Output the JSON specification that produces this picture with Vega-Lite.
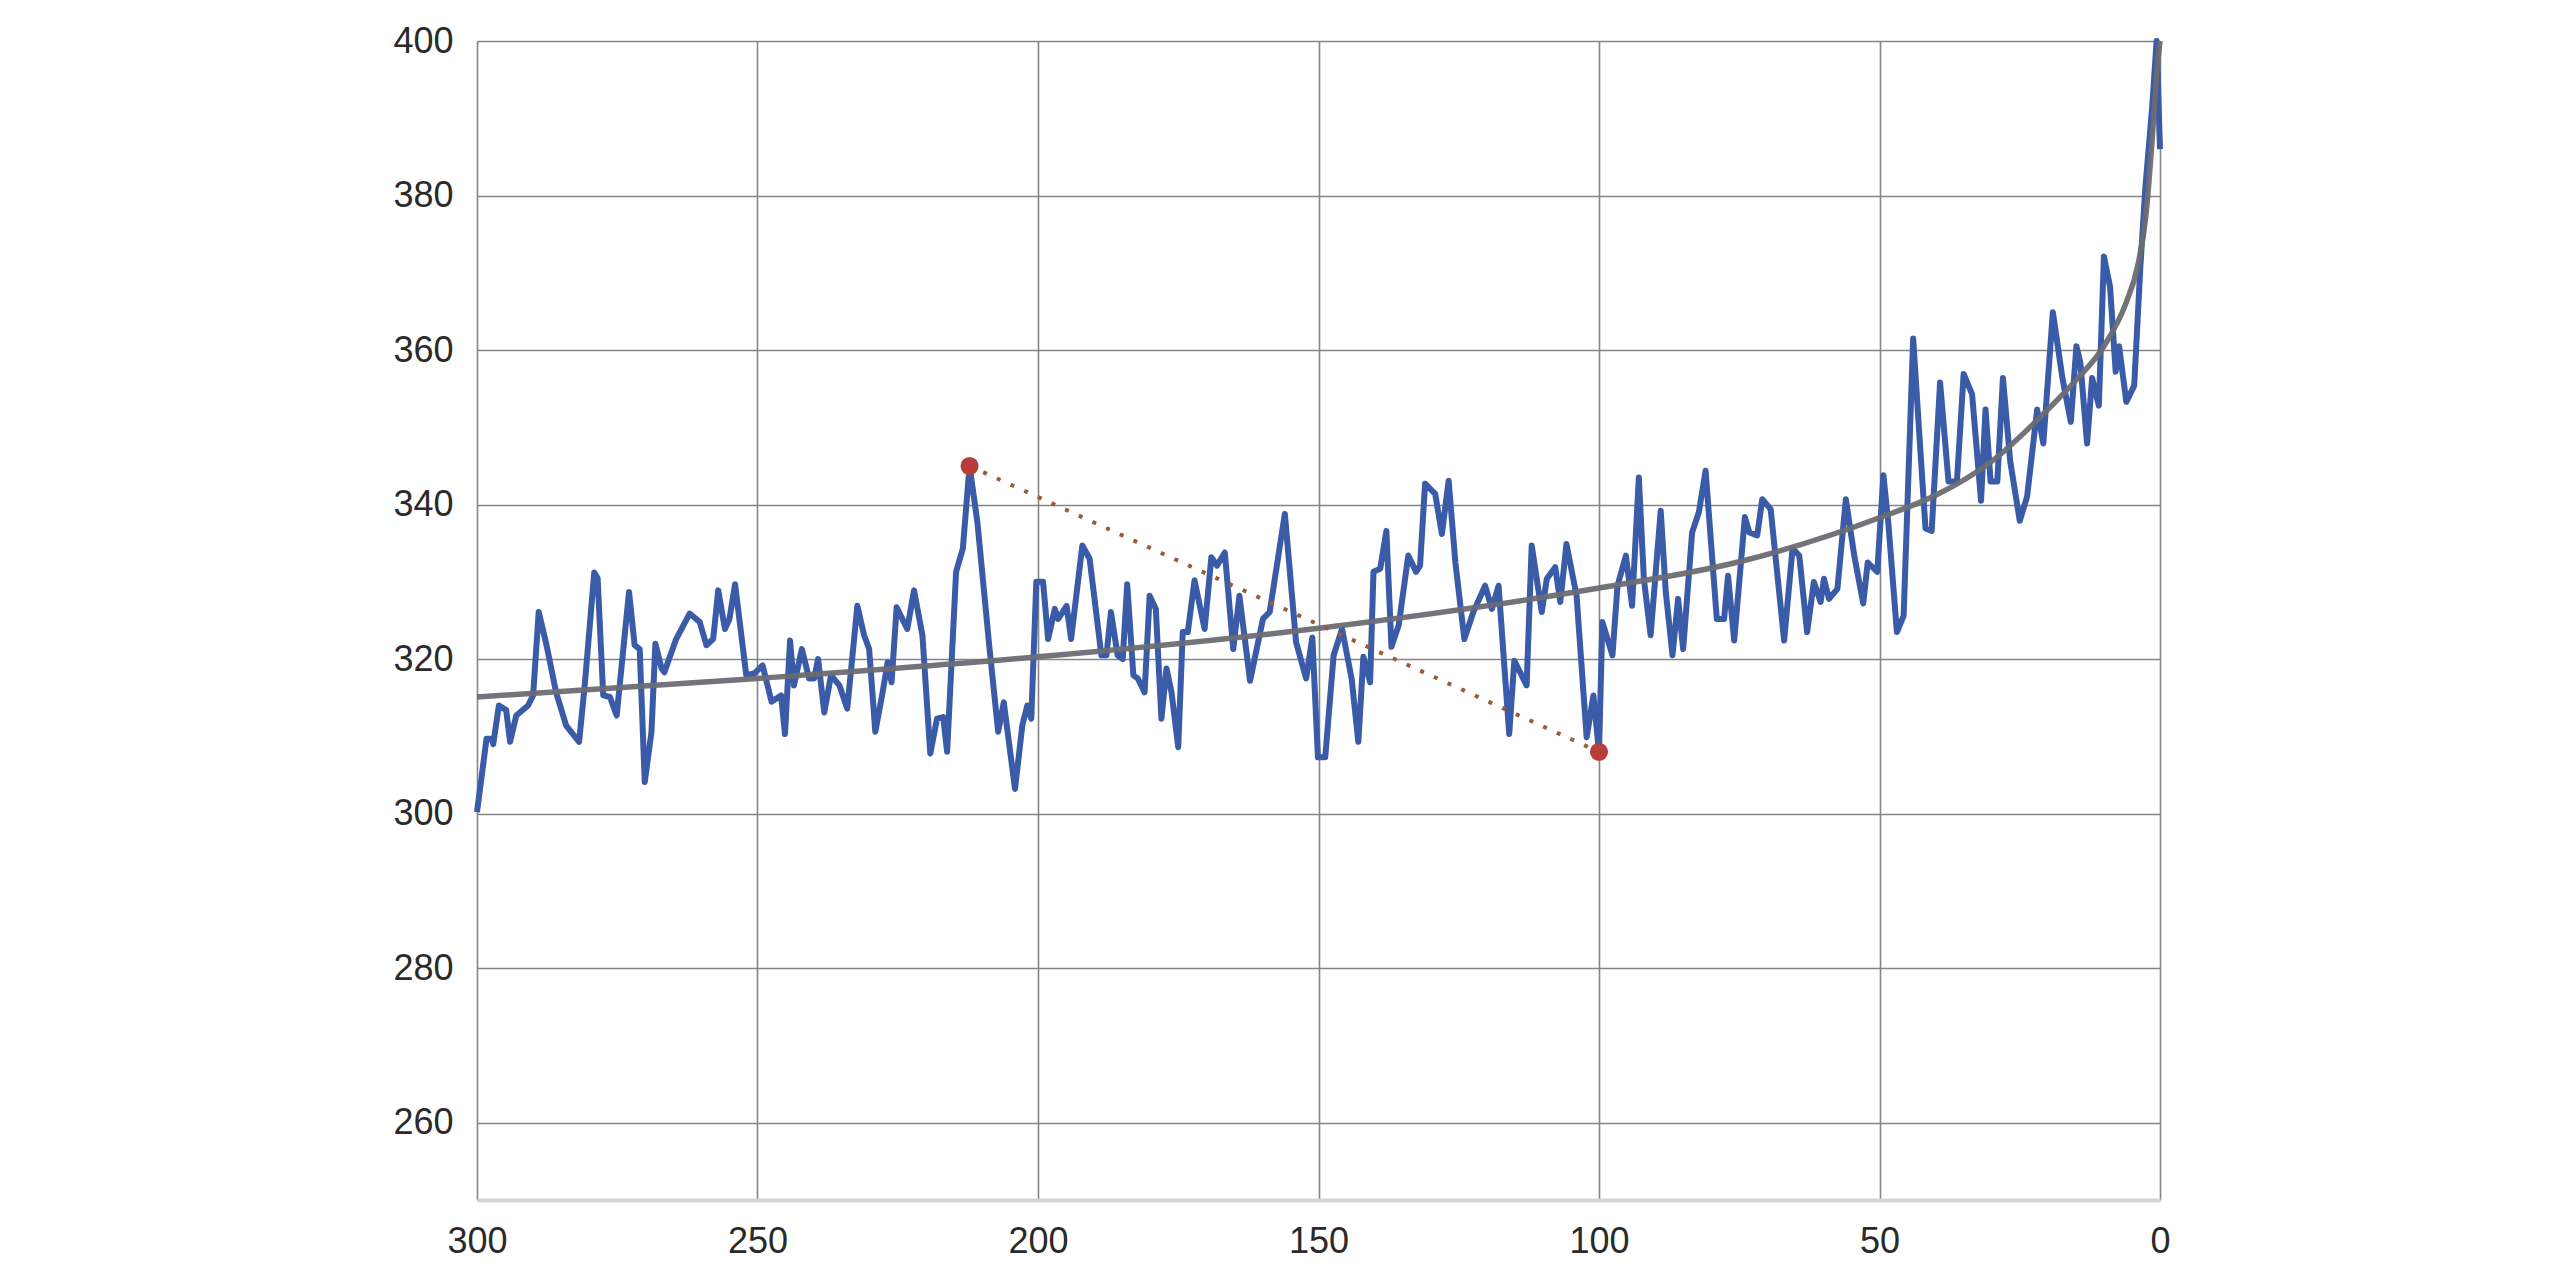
{
  "$schema": "https://vega.github.io/schema/vega-lite/v6.json",
  "autosize": "none",
  "width": 1683,
  "height": 1159,
  "padding": {"left": 477, "top": 41, "right": 400, "bottom": 64},
  "background": "white",
  "config": {
    "view": {"stroke": null},
    "axis": {
      "labelFont": "Liberation Sans",
      "labelFontSize": 36,
      "labelColor": "#2a2a2a",
      "ticks": false,
      "domain": false,
      "gridColor": "#858585",
      "gridWidth": 1.6,
      "gridOpacity": 1,
      "title": null
    }
  },
  "datasets": {
    "series": [
      {"x": 300, "y": 300.2}, {"x": 298.3, "y": 309.7}, {"x": 297.4, "y": 309.7}, {"x": 297.1, "y": 309},
      {"x": 296.1, "y": 314}, {"x": 294.8, "y": 313.4}, {"x": 294.1, "y": 309.3}, {"x": 293, "y": 312.7},
      {"x": 290.9, "y": 314}, {"x": 290, "y": 315.3}, {"x": 289, "y": 326.1}, {"x": 287.6, "y": 321.8},
      {"x": 285.9, "y": 315.7}, {"x": 284.1, "y": 311.4}, {"x": 281.8, "y": 309.3}, {"x": 280.8, "y": 316.6},
      {"x": 279.1, "y": 331.2}, {"x": 278.5, "y": 330.5}, {"x": 277.5, "y": 315.3}, {"x": 276.3, "y": 315.1},
      {"x": 275.1, "y": 312.7}, {"x": 272.9, "y": 328.7}, {"x": 271.9, "y": 321.8}, {"x": 271, "y": 321.3},
      {"x": 270.1, "y": 304.1}, {"x": 268.9, "y": 310.6}, {"x": 268.2, "y": 322}, {"x": 267.1, "y": 318.8},
      {"x": 266.6, "y": 318.3}, {"x": 264.5, "y": 322.6}, {"x": 262.1, "y": 325.9}, {"x": 260.3, "y": 324.8},
      {"x": 259.1, "y": 321.8}, {"x": 257.9, "y": 322.6}, {"x": 257, "y": 328.9}, {"x": 255.8, "y": 323.9},
      {"x": 255, "y": 325.2}, {"x": 254, "y": 329.7}, {"x": 252, "y": 317.9}, {"x": 250.5, "y": 318.2},
      {"x": 249.1, "y": 319.2}, {"x": 247.5, "y": 314.5}, {"x": 245.8, "y": 315.3}, {"x": 245.1, "y": 310.3},
      {"x": 244.2, "y": 322.4}, {"x": 243.5, "y": 316.6}, {"x": 242.1, "y": 321.3}, {"x": 240.8, "y": 317.5},
      {"x": 239.9, "y": 317.5}, {"x": 239.2, "y": 320}, {"x": 238.1, "y": 313.1}, {"x": 236.9, "y": 317.9},
      {"x": 235.4, "y": 316.6}, {"x": 234, "y": 313.6}, {"x": 232.2, "y": 326.9}, {"x": 231, "y": 323.1},
      {"x": 230.1, "y": 321.3}, {"x": 229, "y": 310.6}, {"x": 227.7, "y": 315.7}, {"x": 226.8, "y": 319.6},
      {"x": 226.1, "y": 317}, {"x": 225.2, "y": 326.7}, {"x": 223.3, "y": 323.9}, {"x": 222.1, "y": 328.9},
      {"x": 220.6, "y": 323.1}, {"x": 219.2, "y": 307.8}, {"x": 218, "y": 312.3}, {"x": 216.9, "y": 312.5},
      {"x": 216.2, "y": 308}, {"x": 214.6, "y": 331.3}, {"x": 213.4, "y": 334.3}, {"x": 212.2, "y": 345},
      {"x": 210.8, "y": 337.7}, {"x": 208.7, "y": 321.8}, {"x": 207.1, "y": 310.6}, {"x": 206.1, "y": 314.4},
      {"x": 204.1, "y": 303.2}, {"x": 202.8, "y": 311.4}, {"x": 201.9, "y": 314}, {"x": 201.2, "y": 312.3},
      {"x": 200.3, "y": 330}, {"x": 199.1, "y": 330}, {"x": 198.2, "y": 322.6}, {"x": 197, "y": 326.5},
      {"x": 196.4, "y": 325.2}, {"x": 194.9, "y": 326.9}, {"x": 194.1, "y": 322.6}, {"x": 192.1, "y": 334.7},
      {"x": 190.8, "y": 333}, {"x": 188.7, "y": 320.5}, {"x": 187.8, "y": 320.5}, {"x": 187, "y": 326.1},
      {"x": 185.8, "y": 320.5}, {"x": 184.9, "y": 320}, {"x": 184.1, "y": 329.7}, {"x": 183, "y": 317.9},
      {"x": 182.2, "y": 317.5}, {"x": 181, "y": 315.7}, {"x": 180.1, "y": 328.2}, {"x": 179, "y": 326.5},
      {"x": 178, "y": 312.3}, {"x": 177.1, "y": 318.8}, {"x": 176.2, "y": 315.7}, {"x": 175, "y": 308.6},
      {"x": 174.2, "y": 323.5}, {"x": 173.3, "y": 323.5}, {"x": 172.1, "y": 330.2}, {"x": 170.3, "y": 323.9},
      {"x": 169.1, "y": 333.2}, {"x": 168.1, "y": 332.1}, {"x": 166.7, "y": 333.8}, {"x": 165.2, "y": 321.3},
      {"x": 164.1, "y": 328.2}, {"x": 162.2, "y": 317.2}, {"x": 159.9, "y": 325.2}, {"x": 158.7, "y": 326.1},
      {"x": 156, "y": 338.8}, {"x": 154, "y": 322.2}, {"x": 152.2, "y": 317.5}, {"x": 151.1, "y": 322.8},
      {"x": 150.1, "y": 307.3}, {"x": 148.8, "y": 307.3}, {"x": 147.3, "y": 320.5}, {"x": 145.8, "y": 323.9},
      {"x": 144.1, "y": 317.5}, {"x": 142.9, "y": 309.3}, {"x": 142, "y": 320.3}, {"x": 140.8, "y": 317},
      {"x": 140.2, "y": 331.3}, {"x": 139, "y": 331.7}, {"x": 137.9, "y": 336.6}, {"x": 137, "y": 321.6},
      {"x": 135.7, "y": 324.4}, {"x": 134, "y": 333.4}, {"x": 132.6, "y": 331.3}, {"x": 131.9, "y": 332.1},
      {"x": 131, "y": 342.7}, {"x": 129.2, "y": 341.4}, {"x": 128, "y": 336.2}, {"x": 126.8, "y": 343.1},
      {"x": 125.6, "y": 332.5}, {"x": 124, "y": 322.6}, {"x": 122.4, "y": 326.1}, {"x": 120.3, "y": 329.5},
      {"x": 119.1, "y": 326.5}, {"x": 117.9, "y": 329.5}, {"x": 116, "y": 310.3}, {"x": 115.1, "y": 319.8},
      {"x": 112.9, "y": 316.6}, {"x": 112, "y": 334.7}, {"x": 110.2, "y": 326.1}, {"x": 109.3, "y": 330.4},
      {"x": 107.8, "y": 331.9}, {"x": 106.9, "y": 327.4}, {"x": 105.8, "y": 334.9}, {"x": 104, "y": 328.2},
      {"x": 102.2, "y": 309.9}, {"x": 101, "y": 315.3}, {"x": 100, "y": 308}, {"x": 99.4, "y": 324.8},
      {"x": 97.6, "y": 320.5}, {"x": 96.7, "y": 329.5}, {"x": 95.2, "y": 333.4}, {"x": 94.1, "y": 326.9},
      {"x": 92.9, "y": 343.5}, {"x": 92, "y": 330.4}, {"x": 90.8, "y": 323.1}, {"x": 89, "y": 339.2},
      {"x": 88.1, "y": 328.7}, {"x": 86.9, "y": 320.5}, {"x": 85.9, "y": 327.8}, {"x": 85, "y": 321.3},
      {"x": 83.4, "y": 336.4}, {"x": 82.2, "y": 339}, {"x": 81, "y": 344.4}, {"x": 79, "y": 325.2},
      {"x": 77.7, "y": 325.2}, {"x": 77, "y": 330.8}, {"x": 75.9, "y": 322.4}, {"x": 74, "y": 338.4},
      {"x": 73.2, "y": 336.4}, {"x": 71.8, "y": 336}, {"x": 70.9, "y": 340.7}, {"x": 69.4, "y": 339.4},
      {"x": 67, "y": 322.4}, {"x": 65.5, "y": 334.3}, {"x": 64.3, "y": 333.4}, {"x": 62.9, "y": 323.5},
      {"x": 61.7, "y": 330}, {"x": 60.5, "y": 327.4}, {"x": 59.9, "y": 330.4}, {"x": 59, "y": 327.8},
      {"x": 57.5, "y": 329.1}, {"x": 56, "y": 340.7}, {"x": 54.5, "y": 333.4}, {"x": 52.9, "y": 327.2},
      {"x": 52.1, "y": 332.5}, {"x": 50.4, "y": 331.3}, {"x": 49.3, "y": 343.8}, {"x": 48.4, "y": 337.4},
      {"x": 46.9, "y": 323.5}, {"x": 45.7, "y": 325.6}, {"x": 44, "y": 361.5}, {"x": 43, "y": 350.2},
      {"x": 41.8, "y": 336.9}, {"x": 40.7, "y": 336.6}, {"x": 39.2, "y": 355.8}, {"x": 37.7, "y": 343},
      {"x": 36.2, "y": 343}, {"x": 35, "y": 356.9}, {"x": 33.5, "y": 354.3}, {"x": 31.9, "y": 340.5},
      {"x": 31.1, "y": 352.3}, {"x": 30.2, "y": 343}, {"x": 29, "y": 343}, {"x": 28, "y": 356.4},
      {"x": 26.7, "y": 345.6}, {"x": 25, "y": 337.9}, {"x": 23.7, "y": 341}, {"x": 21.9, "y": 352.3},
      {"x": 20.8, "y": 347.9}, {"x": 19.1, "y": 364.9}, {"x": 17.4, "y": 356.4}, {"x": 15.9, "y": 350.7},
      {"x": 14.9, "y": 360.5}, {"x": 14.2, "y": 358.4}, {"x": 13, "y": 347.9}, {"x": 12.1, "y": 356.4},
      {"x": 10.9, "y": 352.8}, {"x": 10, "y": 372.1}, {"x": 8.9, "y": 368.2}, {"x": 7.9, "y": 357.2},
      {"x": 7.3, "y": 360.5}, {"x": 6, "y": 353.3}, {"x": 4.6, "y": 355.4}, {"x": 3.5, "y": 370.8},
      {"x": 2.6, "y": 381.1}, {"x": 1.4, "y": 391.4}, {"x": 0.6, "y": 400}, {"x": 0, "y": 386}
    ],
    "trend": [
      {"x": 300, "y": 315.1}, {"x": 250, "y": 317.5}, {"x": 200, "y": 320.3}, {"x": 150, "y": 324},
      {"x": 100, "y": 329.2}, {"x": 75, "y": 332.6}, {"x": 50, "y": 338.3}, {"x": 40, "y": 341.2},
      {"x": 30, "y": 345.6}, {"x": 20, "y": 352.3}, {"x": 15, "y": 356.1}, {"x": 10, "y": 360.5},
      {"x": 6, "y": 366.2}, {"x": 4, "y": 370.8}, {"x": 2.5, "y": 377.5}, {"x": 1.5, "y": 386.2},
      {"x": 0.5, "y": 396.5}, {"x": 0, "y": 400}
    ],
    "marks": [
      {"x": 212.2, "y": 345},
      {"x": 100, "y": 308}
    ]
  },
  "encoding": {
    "x": {
      "field": "x",
      "type": "quantitative",
      "scale": {"domain": [0, 300], "reverse": true, "nice": false},
      "axis": {
        "values": [0, 50, 100, 150, 200, 250, 300],
        "labelPadding": 24,
        "labelFlush": false,
        "domain": true,
        "domainColor": "#d4d4d4",
        "domainWidth": 4
      }
    },
    "y": {
      "field": "y",
      "type": "quantitative",
      "scale": {"domain": [250, 400], "nice": false},
      "axis": {"values": [260, 280, 300, 320, 340, 360, 380, 400], "labelPadding": 24}
    }
  },
  "layer": [
    {
      "data": {"name": "series"},
      "mark": {"type": "line", "color": "#3a5ba8", "strokeWidth": 6, "strokeJoin": "round"}
    },
    {
      "data": {"name": "trend"},
      "mark": {"type": "line", "color": "#6a6d73", "strokeWidth": 5.5, "interpolate": "monotone", "opacity": 0.95}
    },
    {
      "data": {"name": "marks"},
      "mark": {"type": "line", "color": "#9a5a3c", "strokeWidth": 4, "strokeDash": [4, 11]}
    },
    {
      "data": {"name": "marks"},
      "mark": {"type": "circle", "color": "#b83c3c", "size": 330, "opacity": 1}
    }
  ]
}
